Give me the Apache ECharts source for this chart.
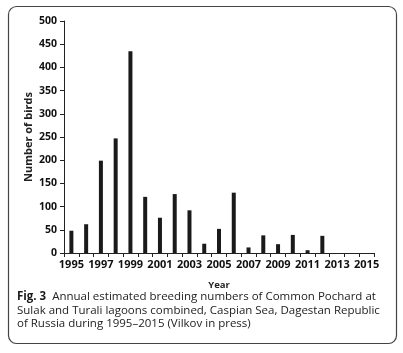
<!DOCTYPE html>
<html><head><meta charset="utf-8">
<script src="https://cdn.jsdelivr.net/npm/echarts@6/dist/echarts.min.js"></script>
<style>html,body{margin:0;padding:0;background:#fff}#c{width:403px;height:353px}</style>
</head><body><div id="c"></div>
<script>
var years = ['1995','1996','1997','1998','1999','2000','2001','2002','2003','2004','2005','2006','2007','2008','2009','2010','2011','2012','2013','2014','2015'];
var birds = [48, 62, 199, 247, 435, 121, 76, 127, 92, 20, 52, 130, 12, 38, 19, 39, 6, 37, 0, 0, 0];
var yTicks = [0, 50, 100, 150, 200, 250, 300, 350, 400, 450, 500];
var captionLines = [
  ['Fig. 3', '  Annual estimated breeding numbers of Common Pochard at'],
  ['', 'Sulak and Turali lagoons combined, Caspian Sea, Dagestan Republic'],
  ['', 'of Russia during 1995\u20132015 (Vilkov in press)']
];
var chart = echarts.init(document.getElementById('c'), null, {renderer: 'canvas'});
var F = 'Open Sans, Noto Sans, sans-serif';
var capText = captionLines.map(function (l) {
  return (l[0] ? '{b|' + l[0] + '}' : '') + '{r|' + l[1] + '}';
}).join('\n');
chart.setOption({
  animation: false,
  grid: {left: 64, right: 29, top: 21, bottom: 100},
  xAxis: {
    type: 'category', data: years, boundaryGap: true,
    name: 'Year', nameLocation: 'middle', nameGap: 27, nameMoveOverlap: false,
    nameTextStyle: {fontFamily: F, fontWeight: 'bold', fontSize: 9.5, color: '#222'},
    axisLine: {lineStyle: {color: '#222', width: 1}},
    axisTick: {show: true, interval: 0, length: 4, lineStyle: {color: '#222'}},
    axisLabel: {interval: 1, fontFamily: F, fontWeight: 'bold', fontSize: 11, color: '#111', margin: 6}
  },
  yAxis: {
    type: 'value', min: yTicks[0], max: yTicks[yTicks.length - 1], interval: 50,
    name: 'Number of birds', nameLocation: 'middle', nameGap: 30, nameRotate: 90, nameMoveOverlap: false,
    nameTextStyle: {fontFamily: F, fontWeight: 'bold', fontSize: 11, color: '#222'},
    axisLine: {show: true, lineStyle: {color: '#222', width: 1}},
    axisTick: {show: true, length: 4, lineStyle: {color: '#222'}},
    splitLine: {show: false},
    axisLabel: {fontFamily: F, fontWeight: 'bold', fontSize: 10.5, color: '#111', margin: 7}
  },
  series: [{
    type: 'bar', data: birds, barWidth: 4,
    itemStyle: {color: '#1a1a1a'}
  }],
  graphic: [
    {type: 'rect', shape: {x: 8.5, y: 6.5, width: 388, height: 337, r: 8},
     style: {fill: 'none', stroke: '#444', lineWidth: 1.2}, silent: true},
    {type: 'text', left: 17, top: 290,
     style: {text: capText, fontFamily: F, fontSize: 11.5, lineHeight: 13.5, fill: '#222',
       rich: {b: {fontWeight: 'bold', fontFamily: F, fontSize: 11.5, lineHeight: 13.5, fill: '#1a1a1a'},
              r: {fontFamily: F, fontSize: 11.5, lineHeight: 13.5, fill: '#222'}}}}
  ]
});
</script></body></html>
